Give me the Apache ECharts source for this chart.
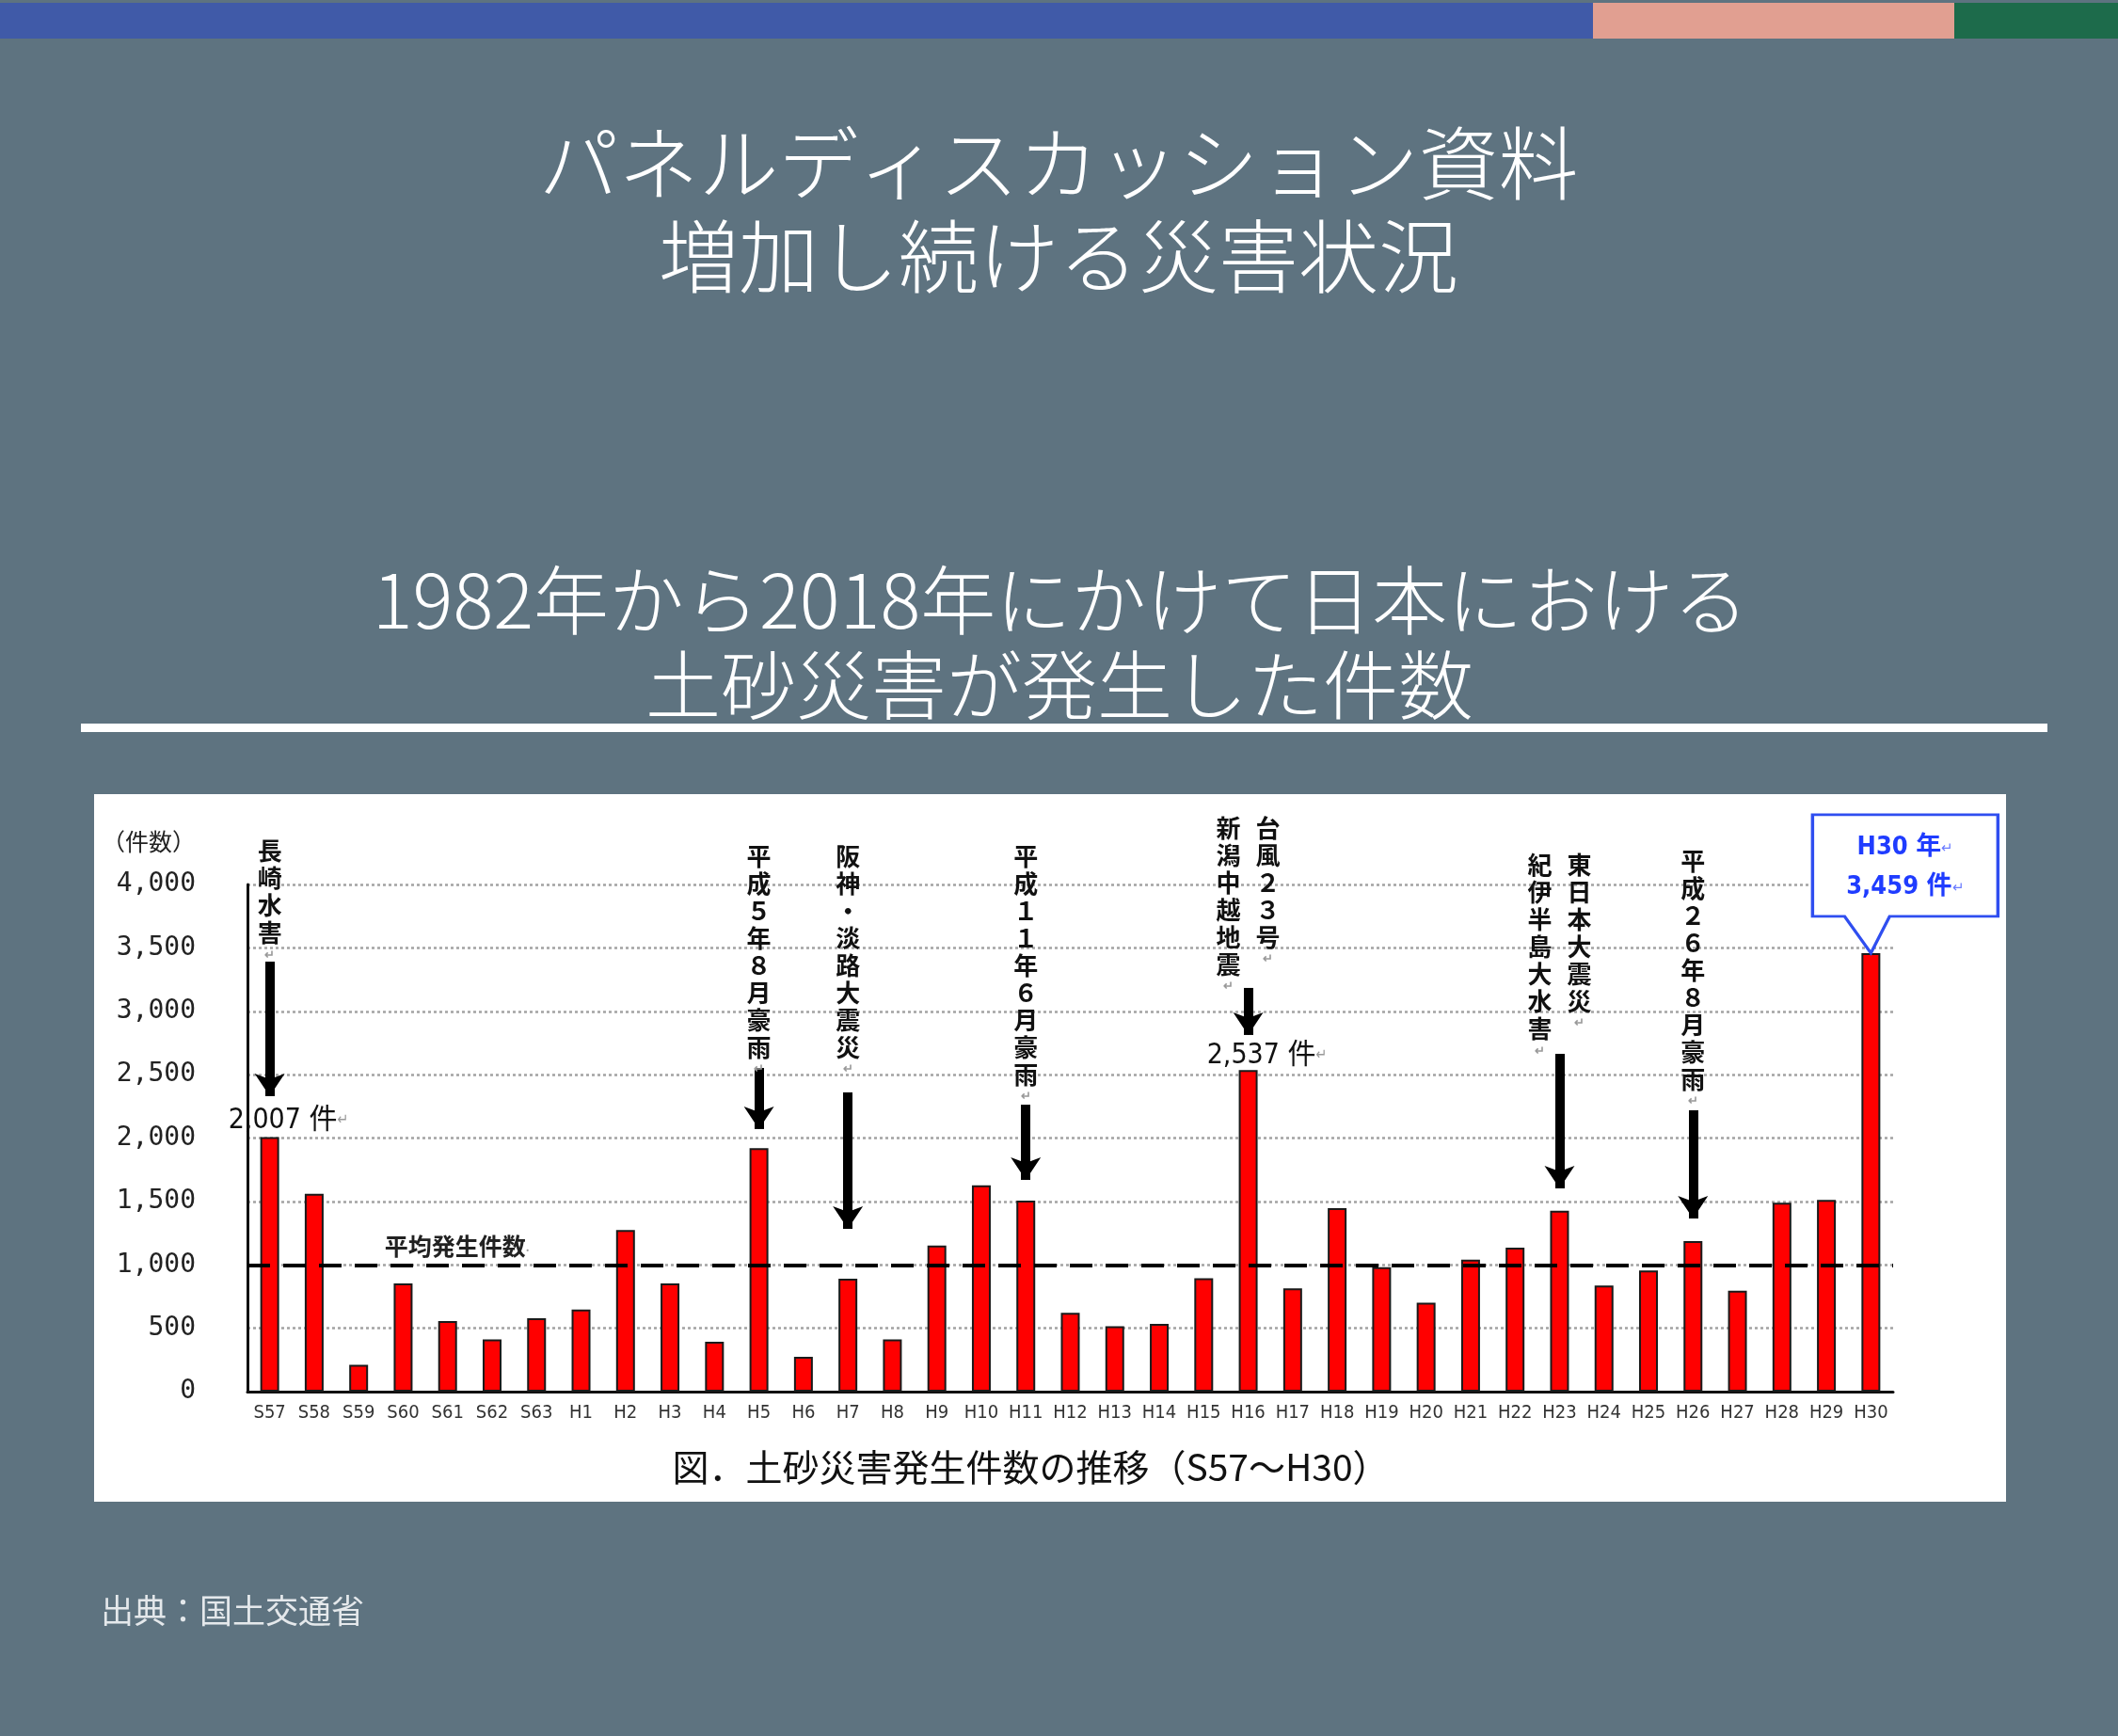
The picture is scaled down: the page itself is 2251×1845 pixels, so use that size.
<!DOCTYPE html>
<html>
<head>
<meta charset="utf-8">
<script src="https://cdn.jsdelivr.net/npm/echarts@6/dist/echarts.min.js"></script>
<style>
  html, body { margin: 0; padding: 0; background: #5e7380; }
  #chart { width: 2251px; height: 1845px; }
</style>
</head>
<body>
<div id="chart"></div>
<script>
// 年度（昭和57年～平成30年）
var years = ['S57','S58','S59','S60','S61','S62','S63',
  'H1','H2','H3','H4','H5','H6','H7','H8','H9','H10',
  'H11','H12','H13','H14','H15','H16','H17','H18','H19','H20',
  'H21','H22','H23','H24','H25','H26','H27','H28','H29','H30'];

// 土砂災害発生件数
var counts = [2007,1560,212,853,557,412,579,
  647,1274,853,393,1921,274,891,412,1152,1628,
  1506,621,515,534,895,2537,814,1448,981,702,
  1040,1136,1426,837,956,1187,795,1490,1512,3459];

var yMin = 0, yMax = 4000, yStep = 500;
var averageCount = 1000;

// 主な災害: [年度, 文字の下端(件数), 見出し, 列(-1 左 / 0 / 1 右)]
var eventNotes = [
  ['S57', 3391, '長崎水害', 0],
  ['H5', 2486, '平成５年８月豪雨', 0],
  ['H7', 2486, '阪神・淡路大震災', 0],
  ['H11', 2271, '平成１１年６月豪雨', 0],
  ['H16', 3139, '新潟中越地震', -1],
  ['H16', 3354, '台風２３号', 1],
  ['H23', 2634, '紀伊半島大水害', -1],
  ['H23', 2850, '東日本大震災', 1],
  ['H26', 2234, '平成２６年８月豪雨', 0]
];

// 矢印: [年度, 始点, 終点]
var eventArrows = [
  ['S57', 3391, 2330],
  ['H5', 2553, 2071],
  ['H7', 2360, 1284],
  ['H11', 2263, 1670],
  ['H16', 3184, 2813],
  ['H23', 2664, 1603],
  ['H26', 2219, 1365]
];

// 件数の注記: [年度, 位置(件数), 文字]
var countNotes = [
  ['S57', 2137, '2,007 件'],
  ['H16', 2650, '2,537 件']
];

var latestYear = 'H30', latestCount = 3459;

var myChart = echarts.init(document.getElementById('chart'));

var jp = '"Noto Sans CJK JP", sans-serif';
var narrow = '"DejaVu Sans Condensed", "Liberation Sans Narrow", "Noto Sans CJK JP", sans-serif';
var mono = '"DejaVu Sans Mono", "Liberation Mono", monospace';

var markPoints = [];
eventNotes.forEach(function (n) {
  markPoints.push({
    coord: [n[0], n[1]],
    symbol: 'circle',
    symbolSize: 1,
    itemStyle: { color: 'transparent' },
    label: {
      show: true,
      position: 'top',
      distance: 0,
      offset: [n[3] * 21, 0],
      formatter: n[2].split('').join('\n') + '\n{r|↵}',
      fontFamily: jp,
      fontSize: 26,
      fontWeight: 'bold',
      lineHeight: 29,
      color: '#111',
      rich: { r: { fontSize: 13, lineHeight: 16, color: '#999' } }
    }
  });
});
countNotes.forEach(function (n) {
  markPoints.push({
    coord: [n[0], n[1]],
    symbol: 'circle',
    symbolSize: 1,
    itemStyle: { color: 'transparent' },
    label: {
      show: true,
      position: 'inside',
      offset: [20, 0],
      formatter: n[2] + '{r|↵}',
      fontFamily: narrow,
      fontSize: 30,
      color: '#111',
      rich: { r: { fontSize: 16, color: '#999' } }
    }
  });
});
markPoints.push({
  coord: [years[4], averageCount + 143],
  symbol: 'circle',
  symbolSize: 1,
  itemStyle: { color: 'transparent' },
  label: {
    show: true,
    position: 'inside',
    offset: [10, 0],
    formatter: '平均発生件数{r|.}',
    fontFamily: jp,
    fontSize: 25,
    fontWeight: 'bold',
    color: '#222',
    rich: { r: { fontSize: 12, color: '#999' } }
  }
});
// H30 吹き出し
markPoints.push({
  coord: [latestYear, latestCount],
  symbol: 'path://M0 0L197 0L197 108L82 108L62 147L34 108L0 108Z',
  symbolSize: [197, 147],
  symbolOffset: [36.5, -73.5],
  itemStyle: { color: '#fff', borderColor: '#2f4ef0', borderWidth: 3 },
  label: {
    show: true,
    position: 'inside',
    offset: [0, -17],
    formatter: '{a|' + latestYear + ' 年}{r|↵}\n{a|' +
      latestCount.toLocaleString('en-US') + ' 件}{r|↵}',
    rich: {
      a: { fontFamily: narrow, fontSize: 27, fontWeight: 'bold', color: '#1f3cff', lineHeight: 42 },
      r: { fontSize: 15, color: '#6b7cff', lineHeight: 42 }
    }
  }
});

var arrowLines = eventArrows.map(function (a) {
  return [{ coord: [a[0], a[1]], symbol: 'none' }, { coord: [a[0], a[2]], symbol: 'arrow' }];
});
arrowLines.push({
  yAxis: averageCount,
  lineStyle: { type: [24, 14], width: 4, color: '#000' }
});

function txt(x, y, text, size, color, weight) {
  return {
    type: 'text', x: x, y: y, z: 10,
    style: {
      text: text, fill: color, align: 'center', verticalAlign: 'middle',
      font: (weight || 'normal') + ' ' + size + 'px ' + jp
    }
  };
}

option = {
  animation: false,
  backgroundColor: '#5e7380',
  graphic: [
    { type: 'rect', z: -10, shape: { x: 0, y: 3, width: 1693, height: 38 }, style: { fill: '#405aa8' } },
    { type: 'rect', z: -10, shape: { x: 1693, y: 3, width: 384, height: 38 }, style: { fill: '#e19f91' } },
    { type: 'rect', z: -10, shape: { x: 2077, y: 3, width: 174, height: 38 }, style: { fill: '#1d6b4b' } },
    txt(1125, 174, 'パネルディスカッション資料', 85, '#fff', 300),
    txt(1125, 273, '増加し続ける災害状況', 85, '#fff', 300),
    txt(1127, 638, '1982年から2018年にかけて日本における', 80, '#fff', 300),
    txt(1126, 728, '土砂災害が発生した件数', 80, '#fff', 300),
    { type: 'rect', z: -10, shape: { x: 86, y: 769, width: 2090, height: 9 }, style: { fill: '#fff' } },
    { type: 'rect', z: -10, shape: { x: 100, y: 844, width: 2032, height: 752 }, style: { fill: '#fff' } },
    {
      type: 'text', x: 107, y: 1712, z: 10,
      style: { text: '出典：国土交通省', fill: '#e4e8eb', verticalAlign: 'middle', font: '35px ' + jp }
    }
  ],
  grid: {
    left: 263,
    right: 239,
    top: 940,
    bottom: 366,
    containLabel: false
  },
  xAxis: {
    type: 'category',
    data: years,
    name: '図．土砂災害発生件数の推移（S57～H30）',
    nameLocation: 'middle',
    nameGap: 80,
    nameTextStyle: {
      fontFamily: jp, fontSize: 39, color: '#111',
      verticalAlign: 'middle', padding: [0, 84, 0, 0]
    },
    axisLine: { lineStyle: { color: '#111', width: 3 } },
    axisTick: { show: false },
    axisLabel: {
      interval: 0, margin: 13, fontSize: 20,
      fontFamily: narrow, color: '#333'
    }
  },
  yAxis: {
    type: 'value',
    min: yMin,
    max: yMax,
    interval: yStep,
    name: '（件数）',
    nameLocation: 'end',
    nameGap: 46,
    nameTextStyle: {
      fontFamily: jp, fontSize: 25, color: '#222',
      align: 'right', verticalAlign: 'middle', padding: [0, 55, 0, 0]
    },
    axisLine: { show: true, lineStyle: { color: '#111', width: 3 } },
    axisTick: { show: false },
    axisLabel: {
      margin: 55, fontSize: 28, fontFamily: mono, color: '#222',
      formatter: function (v) { return v.toLocaleString('en-US'); }
    },
    splitLine: { lineStyle: { color: '#a3a3a3', type: [3, 3], width: 2.5 } }
  },
  series: [
    {
      name: '土砂災害発生件数',
      type: 'bar',
      data: counts,
      barWidth: 20,
      itemStyle: { color: '#ff0000', borderColor: '#1a1a1a', borderWidth: 2 },
      markLine: {
        silent: true,
        animation: false,
        symbol: 'none',
        symbolSize: 24,
        label: { show: false },
        lineStyle: { color: '#000', width: 10, type: 'solid' },
        data: arrowLines
      },
      markPoint: {
        silent: true,
        animation: false,
        data: markPoints
      }
    }
  ]
};
myChart.setOption(option);
</script>
</body>
</html>
